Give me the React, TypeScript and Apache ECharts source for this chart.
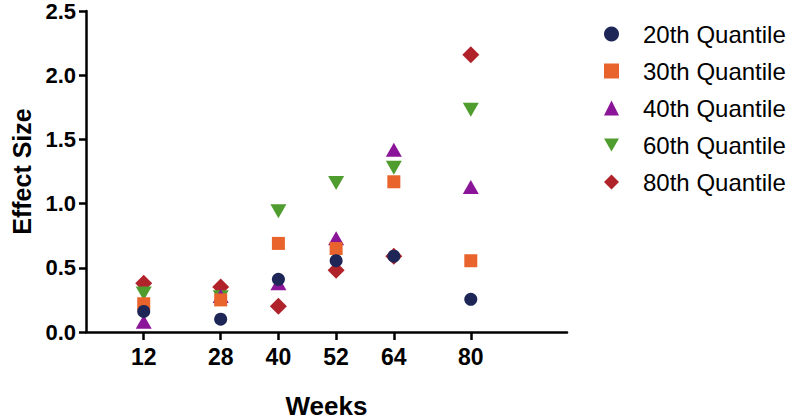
import React, { useEffect, useRef } from "react";
import * as echarts from "echarts";

const weeks = [12, 28, 40, 52, 64, 80];
const seriesNames = ["20th Quantile", "30th Quantile", "40th Quantile", "60th Quantile", "80th Quantile"];
const q20 = [0.16, 0.1, 0.41, 0.555, 0.59, 0.255];
const q30 = [0.22, 0.25, 0.69, 0.65, 1.17, 0.555];
const q40 = [0.08, 0.28, 0.38, 0.73, 1.42, 1.13];
const q60 = [0.3, 0.27, 0.94, 1.16, 1.28, 1.73];
const q80 = [0.38, 0.35, 0.2, 0.48, 0.59, 2.16];
const yTicks = [0, 0.5, 1.0, 1.5, 2.0, 2.5];

const FONT = "Liberation Sans, Arial, sans-serif";

export default function App() {
  const ref = useRef<HTMLDivElement>(null);
  useEffect(() => {
    document.body.style.margin = "0";
    if (!ref.current) return;
    const chart = echarts.init(ref.current, null, { renderer: "svg" });
    const values = [q20, q30, q40, q60, q80];
    const colors = ["#1d2657", "#e8642c", "#8b1598", "#4f9d2f", "#b0232a"];
    const symbols = ["circle", "rect", "triangle", "path://M0,0L16,0L8,14Z", "diamond"];
    const sizes: any[] = [13, 13, [16, 14], [16, 14], 17];
    const series = seriesNames.map((name, i) => ({
      name,
      type: "scatter",
      data: weeks.map((w, j) => [w, values[i][j]]),
      symbol: symbols[i],
      symbolSize: sizes[i],
      itemStyle: { color: colors[i], opacity: 1 },
      z: 10 - i,
    }));
    chart.setOption({
      animation: false,
      textStyle: { fontFamily: FONT },
      grid: { left: 86, top: 11, right: 230, bottom: 88, containLabel: false, outerBoundsMode: "none" },
      legend: {
        orient: "vertical",
        left: 599,
        top: 17,
        itemWidth: 15,
        itemHeight: 15,
        itemGap: 13,
        data: seriesNames,
        textStyle: { fontFamily: FONT, fontSize: 24, lineHeight: 24, color: "#000", padding: [0, 0, 0, 19] },
      },
      xAxis: {
        type: "value",
        min: 0,
        max: 100,
        name: "Weeks",
        nameLocation: "middle",
        nameGap: 61,
        nameTextStyle: { fontFamily: FONT, fontSize: 26, fontWeight: "bold", color: "#000" },
        splitLine: { show: false },
        axisLine: { lineStyle: { color: "#000", width: 2.5 } },
        axisTick: { customValues: weeks, length: 8, lineStyle: { color: "#000", width: 2.5 } },
        axisLabel: { customValues: weeks, margin: 13, fontSize: 23, fontWeight: "bold", color: "#000", fontFamily: FONT },
      },
      yAxis: {
        type: "value",
        min: 0,
        max: 2.5,
        interval: 0.5,
        name: "Effect Size",
        nameLocation: "middle",
        nameGap: 51,
        nameTextStyle: { fontFamily: FONT, fontSize: 25, fontWeight: "bold", color: "#000" },
        splitLine: { show: false },
        axisLine: { show: true, lineStyle: { color: "#000", width: 2.5 } },
        axisTick: { show: true, length: 7, lineStyle: { color: "#000", width: 2.5 } },
        axisLabel: {
          margin: 10,
          fontSize: 22,
          fontWeight: "bold",
          color: "#000",
          fontFamily: FONT,
          formatter: (v: number) => (yTicks.includes(v) ? v.toFixed(1) : ""),
        },
      },
      series,
    });
    return () => chart.dispose();
  }, []);
  return <div ref={ref} style={{ width: 797, height: 420 }} />;
}
